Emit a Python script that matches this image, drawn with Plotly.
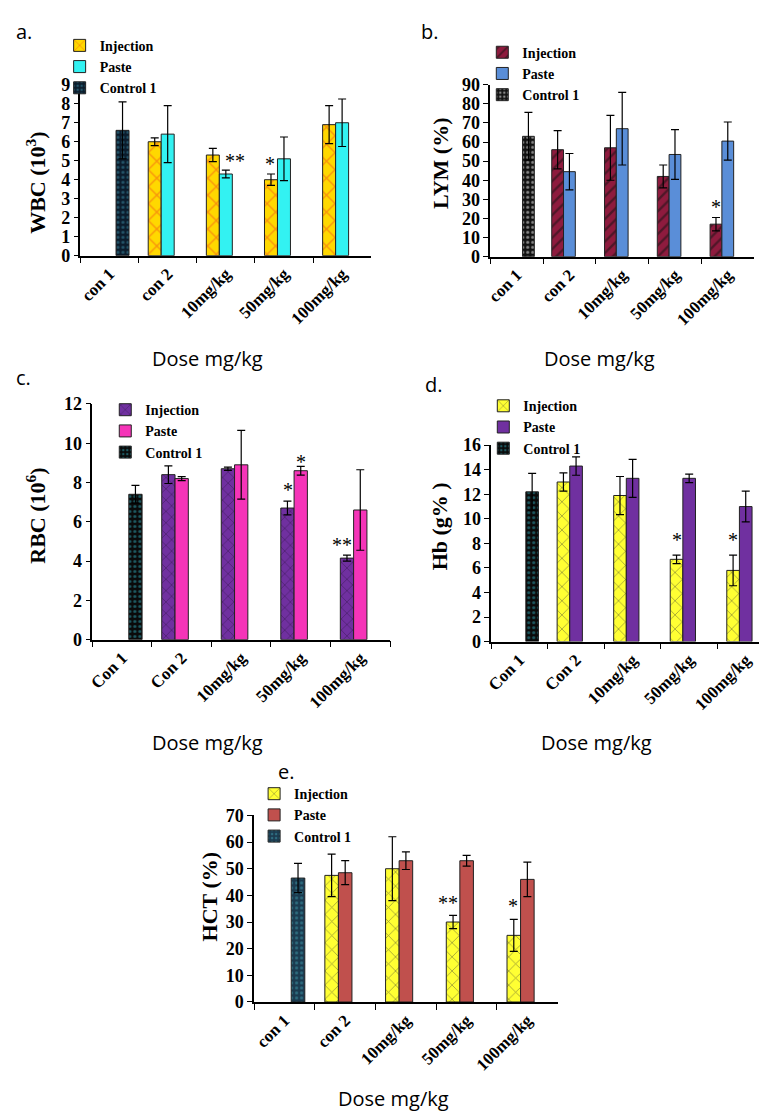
import plotly.graph_objects as go

W, H = 767, 1113

cats_low = ["con 1", "con 2", "10mg/kg", "50mg/kg", "100mg/kg"]
cats_cap = ["Con 1", "Con 2", "10mg/kg", "50mg/kg", "100mg/kg"]
series = ["Injection", "Paste", "Control 1"]

# a. WBC
wbc_inj = [None, 6.0, 5.3, 4.0, 6.9]
wbc_inj_err = [0, 0.2, 0.35, 0.3, 1.0]
wbc_paste = [None, 6.4, 4.3, 5.1, 7.0]
wbc_paste_err = [0, 1.5, 0.2, 1.15, 1.25]
wbc_ctrl = [6.6, None, None, None, None]
wbc_ctrl_err = [1.5, 0, 0, 0, 0]
wbc_sig = [(2, 0.15, 5.0, "**"), (3, -0.24, 4.85, "*")]

# b. LYM
lym_inj = [None, 56, 57, 42, 17]
lym_inj_err = [0, 10, 17, 6, 3.5]
lym_paste = [None, 44.5, 67, 53.5, 60.5]
lym_paste_err = [0, 9.5, 19, 13, 10]
lym_ctrl = [63, None, None, None, None]
lym_ctrl_err = [12.5, 0, 0, 0, 0]
lym_sig = [(4, -0.22, 26, "*")]

# c. RBC
rbc_inj = [None, 8.4, 8.7, 6.7, 4.15]
rbc_inj_err = [0, 0.45, 0.08, 0.35, 0.15]
rbc_paste = [None, 8.2, 8.9, 8.6, 6.6]
rbc_paste_err = [0, 0.1, 1.75, 0.22, 2.05]
rbc_ctrl = [7.4, None, None, None, None]
rbc_ctrl_err = [0.45, 0, 0, 0, 0]
rbc_sig = [(3, -0.22, 7.6, "*"), (3, 0.0, 9.05, "*"), (4, -0.3, 4.8, "**")]

# d. Hb
hb_inj = [None, 13.0, 11.9, 6.7, 5.8]
hb_inj_err = [0, 0.75, 1.55, 0.35, 1.25]
hb_paste = [None, 14.3, 13.3, 13.3, 11.0]
hb_paste_err = [0, 0.75, 1.55, 0.35, 1.25]
hb_ctrl = [12.2, None, None, None, None]
hb_ctrl_err = [1.5, 0, 0, 0, 0]
hb_sig = [(3, -0.22, 8.3, "*"), (4, -0.22, 8.3, "*")]

# e. HCT
hct_inj = [None, 47.5, 50, 30, 25]
hct_inj_err = [0, 8, 12, 2.5, 6]
hct_paste = [None, 48.5, 53, 53, 46]
hct_paste_err = [0, 4.5, 3.3, 2, 6.5]
hct_ctrl = [46.5, None, None, None, None]
hct_ctrl_err = [5.5, 0, 0, 0, 0]
hct_sig = [(3, -0.31, 37, "**"), (4, -0.23, 36, "*")]

SERIF = "Liberation Serif"
SANS = "Open Sans"


def px(x):
    return x / W


def py(y):
    return 1 - y / H


fig = go.Figure()


def add_panel(n, cats, data, sig, styles, ytitle, ymax, dtick, box, legpos,
              ytitle_pos, dose_pos, letter, letter_pos):
    xa = "x" if n == 1 else "x%d" % n
    ya = "y" if n == 1 else "y%d" % n
    leg = "legend" if n == 1 else "legend%d" % n
    for name, (vals, errs), st in zip(series, data, styles):
        fig.add_trace(go.Bar(
            x=cats, y=vals, name=name, xaxis=xa, yaxis=ya, legend=leg,
            marker=dict(color=st[0], line=dict(color="#222222", width=1),
                        pattern=dict(shape=st[2], fgcolor=st[1], bgcolor=st[0],
                                     size=st[3], solidity=st[4])),
            error_y=dict(type="data", array=errs, color="black",
                         thickness=1.2, width=4),
        ))
    x0, x1, y0, y1 = box
    fig.layout["xaxis" if n == 1 else "xaxis%d" % n] = dict(
        domain=[px(x0), px(x1)], anchor=ya, type="category",
        showline=True, linecolor="black", linewidth=1.5,
        ticks="outside", tickson="boundaries", ticklen=6, tickcolor="black",
        tickangle=-45,
        tickfont=dict(family=SERIF, size=17, color="black", weight="bold"),
        showgrid=False, zeroline=False,
    )
    fig.layout["yaxis" if n == 1 else "yaxis%d" % n] = dict(
        domain=[py(y1), py(y0)], anchor=xa, range=[0, ymax], dtick=dtick,
        showline=True, linecolor="black", linewidth=1.5,
        ticks="outside", ticklen=5, tickcolor="black",
        tickfont=dict(family=SERIF, size=18, color="black", weight="bold"),
        showgrid=False, zeroline=False,
    )
    fig.layout[leg] = dict(
        x=px(legpos[0]), y=py(legpos[1]), xanchor="left", yanchor="top",
        bgcolor="rgba(0,0,0,0)",
        font=dict(family=SERIF, size=14, color="black", weight="bold"),
        itemwidth=30, tracegroupgap=0,
    )
    for ci, off, yv, txt in sig:
        fig.add_annotation(x=ci + off, y=yv, xref=xa, yref=ya, text=txt,
                           showarrow=False, xanchor="center", yanchor="middle",
                           font=dict(family=SERIF, size=20, color="black"))
    fig.add_annotation(x=px(ytitle_pos[0]), y=py(ytitle_pos[1]), xref="paper",
                       yref="paper", text="<b>%s</b>" % ytitle, textangle=-90,
                       showarrow=False, xanchor="center", yanchor="middle",
                       font=dict(family=SERIF, size=22, color="black"))
    fig.add_annotation(x=px(dose_pos[0]), y=py(dose_pos[1]), xref="paper",
                       yref="paper", text="Dose mg/kg", showarrow=False,
                       xanchor="center", yanchor="middle",
                       font=dict(family=SANS, size=20, color="black"))
    fig.add_annotation(x=px(letter_pos[0]), y=py(letter_pos[1]), xref="paper",
                       yref="paper", text=letter, showarrow=False,
                       xanchor="left", yanchor="middle",
                       font=dict(family=SANS, size=20, color="black"))


add_panel(1, cats_low,
          [(wbc_inj, wbc_inj_err), (wbc_paste, wbc_paste_err), (wbc_ctrl, wbc_ctrl_err)],
          wbc_sig,
          [("#FFD800", "#F04A1A", "x", 12, 0.2),
           ("#33F2F2", "#33F2F2", "", 8, 0.2),
           ("#0B1C2C", "#3C8FA8", ".", 5, 0.3)],
          "WBC (10<sup>3</sup>)", 9, 1, (67, 360, 68, 242),
          (46, 12), (22, 168), (195, 347), "a.", (0, 14))

add_panel(2, cats_low,
          [(lym_inj, lym_inj_err), (lym_paste, lym_paste_err), (lym_ctrl, lym_ctrl_err)],
          lym_sig,
          [("#8E1B3E", "#111111", "/", 8, 0.3),
           ("#5A8ED8", "#5A8ED8", "", 8, 0.2),
           ("#111111", "#FFFFFF", ".", 5, 0.3)],
          "LYM (%)", 90, 10, (480, 746, 68, 243),
          (472, 19), (430, 148), (590, 347), "b.", (408, 14))

add_panel(3, cats_cap,
          [(rbc_inj, rbc_inj_err), (rbc_paste, rbc_paste_err), (rbc_ctrl, rbc_ctrl_err)],
          rbc_sig,
          [("#7030A0", "#1A0A2A", "x", 8, 0.15),
           ("#F534B8", "#F534B8", "", 8, 0.2),
           ("#0A0A0A", "#2FA8B8", ".", 5, 0.3)],
          "RBC (10<sup>6</sup>)", 12, 2, (79, 379, 393, 633),
          (92, 383), (22, 507), (195, 738), "c.", (0, 366))

add_panel(4, cats_cap,
          [(hb_inj, hb_inj_err), (hb_paste, hb_paste_err), (hb_ctrl, hb_ctrl_err)],
          hb_sig,
          [("#FFFF33", "#333333", "x", 10, 0.15),
           ("#7030A0", "#7030A0", "", 8, 0.2),
           ("#0A0A0A", "#2FA8B8", ".", 5, 0.3)],
          "Hb (g% )", 16, 2, (481, 766, 435, 635),
          (473, 379), (429, 518), (587, 738), "d.", (412, 373))

add_panel(5, cats_low,
          [(hct_inj, hct_inj_err), (hct_paste, hct_paste_err), (hct_ctrl, hct_ctrl_err)],
          hct_sig,
          [("#FFFF33", "#333333", "x", 10, 0.15),
           ("#C0504D", "#C0504D", "", 8, 0.2),
           ("#1B3A4F", "#3FA0B0", ".", 5, 0.3)],
          "HCT (%)", 70, 10, (242, 548, 812, 1002),
          (242, 774), (197, 895), (382, 1100), "e.", (264, 767))

fig.update_layout(
    width=W, height=H, margin=dict(l=0, r=0, t=0, b=0),
    barmode="group", bargap=0.33, bargroupgap=0,
    plot_bgcolor="white", paper_bgcolor="white",
)

fig.write_html("out.html")
